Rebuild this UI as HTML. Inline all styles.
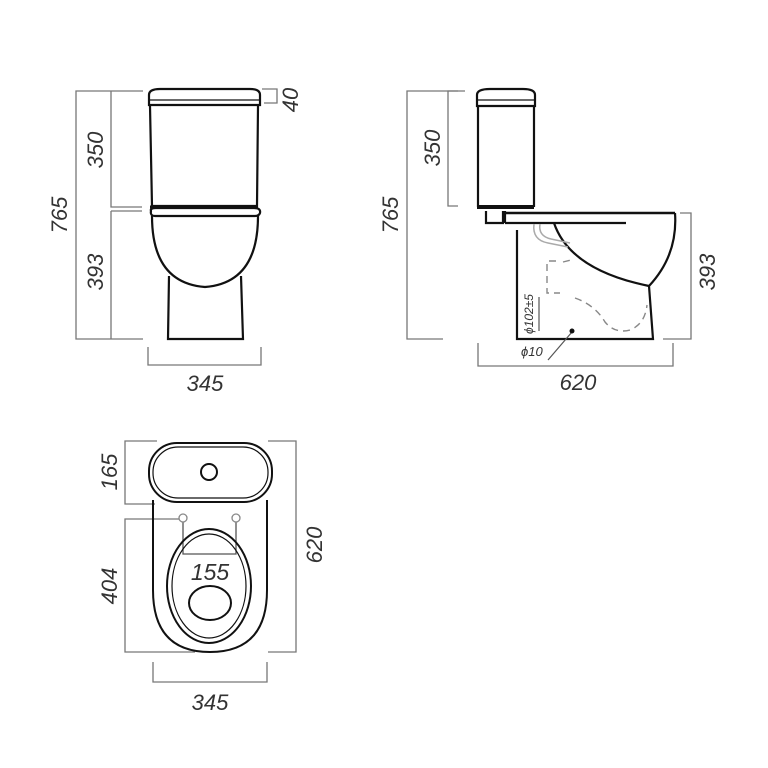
<!DOCTYPE html>
<html><head><meta charset="utf-8"><style>html,body{margin:0;padding:0;background:#fff}svg{display:block}</style></head>
<body>
<svg width="768" height="768" viewBox="0 0 768 768" xmlns="http://www.w3.org/2000/svg" font-family="Liberation Sans, sans-serif" font-style="italic" fill="none">
<rect width="768" height="768" fill="#fff"/>
<!-- FRONT VIEW dims -->
<g stroke="#777" stroke-width="1.3">
<path d="M143 91H76V339H143"/>
<path d="M111 91V207H142"/>
<path d="M111 211H142M111 211V339"/>
<path d="M262 89H277V103H264"/>
<path d="M148 347V365H261V347"/>
</g>
<g fill="#333" font-size="22" stroke="none">
<text transform="translate(67,215) rotate(-90)" text-anchor="middle">765</text>
<text transform="translate(103,150) rotate(-90)" text-anchor="middle">350</text>
<text transform="translate(103,272) rotate(-90)" text-anchor="middle">393</text>
<text transform="translate(298,100) rotate(-90)" text-anchor="middle">40</text>
<text x="205" y="391" text-anchor="middle">345</text>
</g>
<!-- front toilet -->
<g stroke="#111" stroke-width="2.2">
<path d="M149 105V95Q149 89 160 89H250Q260 89 260 95V105Z" fill="#fff"/>
<path d="M150 100H259" stroke-width="1.2"/>
<path d="M150 106L152 206H257L258 106"/>
<path d="M150 207H258" stroke-width="3"/>
<path d="M151 211Q150 208 156 208H254Q261 208 260 213Q259 216 255 216H155Q150 216 151 211Z"/>
<path d="M152 216Q152 283 205 287Q258 283 258 216"/>
<path d="M169 276L168 339H243L241 276"/>
</g>
<!-- SIDE VIEW dims -->
<g stroke="#777" stroke-width="1.3">
<path d="M465 91H407V339H443"/>
<path d="M458 91H448V206H458"/>
<path d="M680 213H691V339H663"/>
<path d="M478 343V366H673V343"/>
</g>
<g fill="#333" font-size="22" stroke="none">
<text transform="translate(398,215) rotate(-90)" text-anchor="middle">765</text>
<text transform="translate(440,148) rotate(-90)" text-anchor="middle">350</text>
<text transform="translate(715,272) rotate(-90)" text-anchor="middle">393</text>
<text x="578" y="390" text-anchor="middle">620</text>
<text transform="translate(533,314) rotate(-90)" text-anchor="middle" font-size="12">ϕ102±5</text>
<text x="521" y="356" font-size="13">ϕ10</text>
</g>
<g stroke="#111" stroke-width="2.2">
<path d="M477 106V95Q477 89 490 89H523Q535 89 535 95V106Z" fill="#fff"/>
<path d="M478 100H534" stroke-width="1.2"/>
<path d="M478 106V207M534 106V207"/>
<path d="M477 207H534" stroke-width="4"/>
<path d="M486 211V223H503V211M505 211V223"/>
<path d="M505 213H675" stroke-width="2.5"/>
<path d="M505 223H626"/>
<path d="M675 213Q678 255 649 286L653 339H517V230"/>
<path d="M554 223Q570 270 649 286"/>
</g>
<g stroke="#aaa" stroke-width="1.5">
<path d="M534 224Q532 240 548 243L568 247M540 224Q538 236 551 239L570 243"/>
</g>
<g stroke="#888" stroke-width="1.4" stroke-dasharray="7 5">
<path d="M556 261H547V293H560"/>
<path d="M563 262L571 260"/>
<path d="M575 298Q595 305 605 322Q615 334 630 330Q645 324 647 305"/>
</g>
<g stroke="#555" stroke-width="1.2">
<path d="M539 297V331"/>
<path d="M572 332L548 360"/>
</g>
<circle cx="572" cy="331" r="2.5" fill="#111"/>
<!-- TOP VIEW dims -->
<g stroke="#777" stroke-width="1.3">
<path d="M157 441H125V504H155"/>
<path d="M182 519H125V652H195"/>
<path d="M268 441H296V652H268"/>
<path d="M153 662V682H267V662"/>
<path d="M183 522V554H236V522" stroke="#555"/>
</g>
<g fill="#333" font-size="22" stroke="none">
<text transform="translate(117,472) rotate(-90)" text-anchor="middle">165</text>
<text transform="translate(117,586) rotate(-90)" text-anchor="middle">404</text>
<text transform="translate(322,545) rotate(-90)" text-anchor="middle">620</text>
<text x="210" y="710" text-anchor="middle">345</text>
<text x="210" y="580" text-anchor="middle" font-size="23">155</text>
</g>
<g stroke="#111" stroke-width="2">
<rect x="149" y="443" width="123" height="59" rx="28"/>
<rect x="153" y="447" width="115" height="51" rx="25" stroke-width="1.2"/>
<circle cx="209" cy="472" r="8"/>
<path d="M153 500V590Q153 652 210 652Q267 652 267 590V500"/>
<ellipse cx="209" cy="586" rx="42" ry="57"/>
<ellipse cx="209" cy="586" rx="37" ry="52" stroke-width="1.2"/>
<ellipse cx="210" cy="603" rx="21" ry="17"/>
</g>
<g stroke="#888" stroke-width="1.3" fill="#fff">
<circle cx="183" cy="518" r="4"/>
<circle cx="236" cy="518" r="4"/>
</g>
</svg>
</body></html>
